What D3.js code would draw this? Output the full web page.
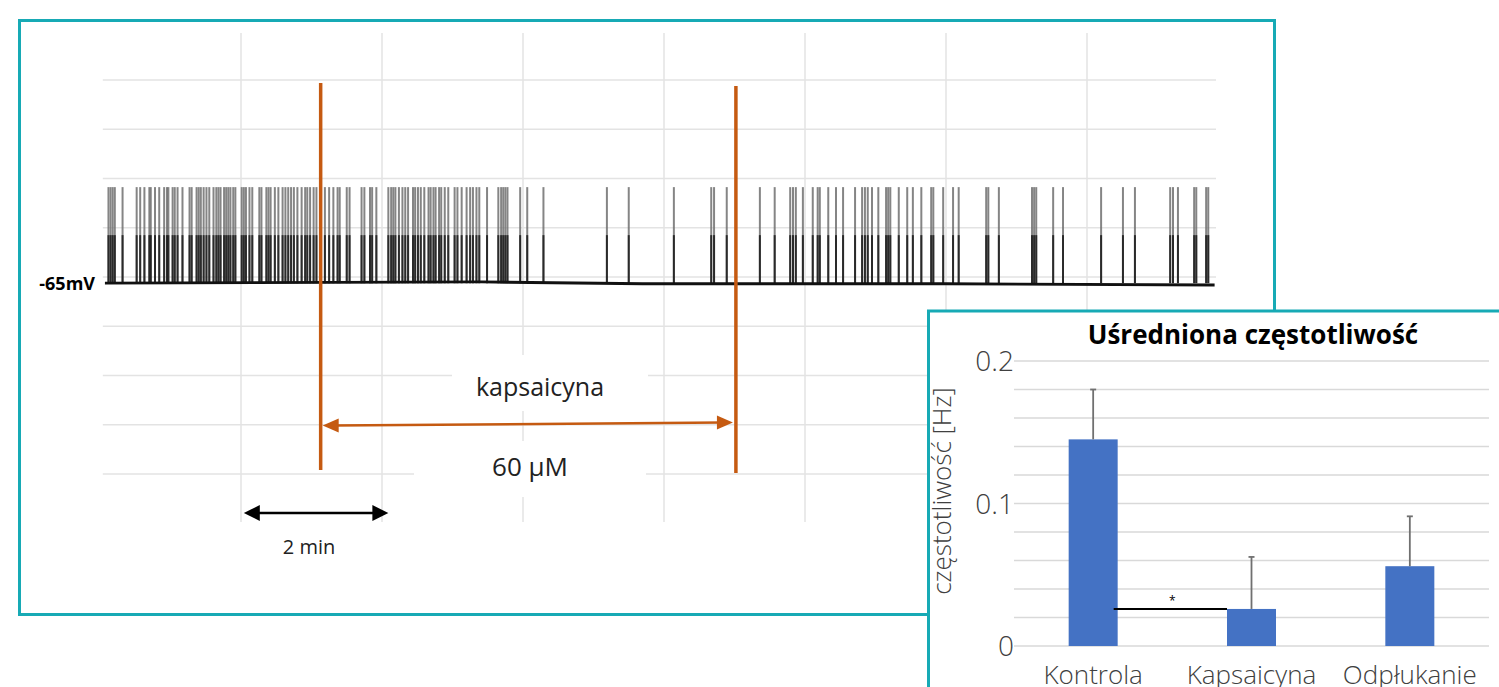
<!DOCTYPE html>
<html>
<head>
<meta charset="utf-8">
<script src="https://cdn.jsdelivr.net/npm/d3@7"></script>
<style>
  body { margin: 0; background: #fff; }
  svg { display: block; }
  text { font-family: "Open Sans", "Noto Sans", sans-serif; }
</style>
</head>
<body>
<svg width="1499" height="687"></svg>
<script>
// ---- trace data (minutes / mV) ----
var spikeTimes = [
  0.12, 0.15, 0.18, 0.21, 0.32, 0.52, 0.57, 0.63, 0.70, 0.72, 0.78, 0.84, 0.91, 0.95, 0.97,
  1.03, 1.06, 1.10, 1.17, 1.27, 1.30, 1.37, 1.40, 1.43, 1.47, 1.51, 1.55, 1.61, 1.65, 1.68,
  1.71, 1.76, 1.79, 1.82, 1.85, 1.89, 1.92, 2.01, 2.04, 2.07, 2.12, 2.16, 2.26, 2.29, 2.36,
  2.39, 2.42, 2.48, 2.53, 2.59, 2.63, 2.67, 2.71, 2.75, 2.80, 2.86, 2.91, 2.94, 2.98, 3.03,
  3.07, 3.19, 3.25, 3.31, 3.37, 3.40, 3.50, 3.54, 3.71, 3.75, 3.83, 3.86, 3.92, 4.09, 4.13,
  4.16, 4.19, 4.24, 4.29, 4.33, 4.37, 4.44, 4.47, 4.51, 4.55, 4.60, 4.66, 4.69, 4.73, 4.76,
  4.81, 4.84, 4.89, 4.94, 5.03, 5.07, 5.13, 5.20, 5.25, 5.29, 5.34, 5.38, 5.49, 5.65, 5.69,
  5.72, 5.75, 5.78, 5.96, 6.06, 6.29, 7.19, 7.50, 8.14, 8.67, 8.71, 8.89, 9.36, 9.57, 9.79,
  9.83, 9.87, 9.97, 10.11, 10.18, 10.21, 10.33, 10.44, 10.54, 10.71, 10.81, 10.85, 10.89, 10.95,
  11.04, 11.15, 11.18, 11.21, 11.33, 11.45, 11.53, 11.65, 11.79, 11.82, 11.96, 12.10, 12.18,
  12.57, 12.60, 12.75, 13.22, 13.25, 13.28, 13.52, 13.66, 14.20, 14.51, 14.68, 15.18, 15.22,
  15.29, 15.52, 15.55, 15.69, 15.72
];
var baselineTimes = [0.07, 5.4, 7.7, 9.5, 12.0, 15.81];
var baselineMv = [-65, -64, -65.5, -65.5, -65.5, -66.5];
var restMv = -65;
var spikePeakMv = 13;
var spikeShoulderMv = -26;
var gridMinutes = [2, 4, 6, 8, 10, 12, 14];
var gridMv = [100, 60, 20, -20, -60, -100, -140, -180, -220];
var drugTimes = [3.13, 9.02];
var scaleBarMinutes = [2.04, 4.09];

// ---- inset bar chart data ----
var categories = ["Kontrola", "Kapsaicyna", "Odpłukanie"];
var meanHz = [0.145, 0.026, 0.056];
var errHz = [0.035, 0.0365, 0.035];
var hzTicks = [0, 0.1, 0.2];
var hzGrid = [0, 0.02, 0.04, 0.06, 0.08, 0.1, 0.12, 0.14, 0.16, 0.18, 0.2];

var svg = d3.select("svg");
var teal = "#17aab5";
var orange = "#c55a11";

//draws a filled arrow head with tip at (x,y) pointing left (dir=-1) or right (dir=1)
function arrowHead(g, x, y, dir, len, half, color) {
  g.append("path")
    .attr("d", `M${x},${y} L${x - dir * len},${y - half} L${x - dir * len},${y + half} Z`)
    .attr("fill", color);
}

function makeTrace() {
  var xT = d3.scaleLinear().domain([0, 16]).range([100, 1228]);
  var yV = d3.scaleLinear().domain([-60, 100]).range([277, 80]);

  svg.append("rect")
    .attr("x", 19.5).attr("y", 20.5).attr("width", 1255).attr("height", 594)
    .attr("fill", "#fff").attr("stroke", teal).attr("stroke-width", 3);

  var grid = svg.append("g").attr("stroke", "#e3e3e3").attr("stroke-width", 1.5);
  grid.selectAll("line.v").data(gridMinutes).enter().append("line")
    .attr("x1", d => xT(d)).attr("x2", d => xT(d))
    .attr("y1", 33).attr("y2", 522);
  grid.selectAll("line.h").data(gridMv).enter().append("line")
    .attr("x1", xT(0.04)).attr("x2", xT(15.83))
    .attr("y1", d => yV(d)).attr("y2", d => yV(d));

  // white boxes behind the labels hide the grid there
  svg.append("rect").attr("x", 452).attr("y", 355).attr("width", 196).attr("height", 56).attr("fill", "#fff");
  svg.append("rect").attr("x", 414).attr("y", 441).attr("width", 232).attr("height", 56).attr("fill", "#fff");

  var spikes = svg.append("g");
  spikes.selectAll("line.full").data(spikeTimes).enter().append("line")
    .attr("x1", d => xT(d)).attr("x2", d => xT(d))
    .attr("y1", yV(restMv)).attr("y2", yV(spikePeakMv))
    .attr("stroke", "#707070").attr("stroke-width", 2).attr("stroke-opacity", 0.85);
  spikes.selectAll("line.low").data(spikeTimes).enter().append("line")
    .attr("x1", d => xT(d)).attr("x2", d => xT(d))
    .attr("y1", yV(restMv)).attr("y2", yV(spikeShoulderMv))
    .attr("stroke", "#1a1a1a").attr("stroke-width", 2).attr("stroke-opacity", 0.85);

  var base = d3.line().x(d => xT(d[0])).y(d => yV(d[1]));
  svg.append("path")
    .datum(baselineTimes.map((t, i) => [t, baselineMv[i]]))
    .attr("d", base).attr("fill", "none").attr("stroke", "#111").attr("stroke-width", 2.8);

  svg.append("text").attr("x", 95).attr("y", 290).attr("text-anchor", "end")
    .attr("font-size", 18).attr("font-weight", "bold").attr("fill", "#000").text("-65mV");

  // drug application lines
  svg.append("line").attr("x1", xT(drugTimes[0])).attr("x2", xT(drugTimes[0]))
    .attr("y1", 83).attr("y2", 470).attr("stroke", orange).attr("stroke-width", 3.5);
  svg.append("line").attr("x1", xT(drugTimes[1])).attr("x2", xT(drugTimes[1]))
    .attr("y1", 86).attr("y2", 473).attr("stroke", orange).attr("stroke-width", 3.5);

  var ann = svg.append("g");
  var ax1 = xT(drugTimes[0]) + 2, ax2 = xT(drugTimes[1]) - 3;
  ann.append("line").attr("x1", ax1 + 10).attr("x2", ax2 - 10).attr("y1", 425.5).attr("y2", 422.5)
    .attr("stroke", orange).attr("stroke-width", 2.5);
  arrowHead(ann, ax1, 425.5, -1, 16, 7, orange);
  arrowHead(ann, ax2, 422.5, 1, 16, 7, orange);

  svg.append("text").attr("x", 540).attr("y", 396).attr("text-anchor", "middle")
    .attr("font-size", 25).attr("fill", "#222").text("kapsaicyna");
  svg.append("text").attr("x", 530).attr("y", 476).attr("text-anchor", "middle")
    .attr("font-size", 26).attr("fill", "#222").text("60 µM");

  // 2 min scale bar
  var s1 = xT(scaleBarMinutes[0]), s2 = xT(scaleBarMinutes[1]);
  ann.append("line").attr("x1", s1 + 10).attr("x2", s2 - 10).attr("y1", 513).attr("y2", 513)
    .attr("stroke", "#000").attr("stroke-width", 2.5);
  arrowHead(ann, s1, 513, -1, 16, 8, "#000");
  arrowHead(ann, s2, 513, 1, 16, 8, "#000");
  svg.append("text").attr("x", 309).attr("y", 554).attr("text-anchor", "middle")
    .attr("font-size", 20).attr("fill", "#222").text("2 min");
}

function makeBarChart() {
  svg.append("rect")
    .attr("x", 928.5).attr("y", 311).attr("width", 600).attr("height", 400)
    .attr("fill", "#fff").attr("stroke", teal).attr("stroke-width", 3);

  var xC = d3.scaleBand().domain(categories).range([1014, 1489]).padding(0);
  var yHz = d3.scaleLinear().domain([0, 0.2]).range([646, 361]);
  var barW = 49;

  svg.append("g").selectAll("line").data(hzGrid).enter().append("line")
    .attr("x1", 1014).attr("x2", 1489)
    .attr("y1", d => yHz(d)).attr("y2", d => yHz(d))
    .attr("stroke", "#d9d9d9").attr("stroke-width", 1.5);

  svg.append("g").selectAll("text").data(hzTicks).enter().append("text")
    .attr("x", 1014).attr("y", d => yHz(d) + 10)
    .attr("text-anchor", "end").attr("font-size", 28).attr("font-weight", 300)
    .attr("fill", "#404040").text(d => d === 0 ? "0" : d.toString());

  svg.append("g").selectAll("rect").data(categories).enter().append("rect")
    .attr("x", d => xC(d) + xC.bandwidth() / 2 - barW / 2)
    .attr("y", (d, i) => yHz(meanHz[i]))
    .attr("width", barW)
    .attr("height", (d, i) => yHz(0) - yHz(meanHz[i]))
    .attr("fill", "#4472c4");

  var err = svg.append("g").attr("stroke", "#707070").attr("stroke-width", 1.8);
  categories.forEach(function (c, i) {
    var cx = xC(c) + xC.bandwidth() / 2;
    err.append("line").attr("x1", cx).attr("x2", cx)
      .attr("y1", yHz(meanHz[i])).attr("y2", yHz(meanHz[i] + errHz[i]));
    err.append("line").attr("x1", cx - 3).attr("x2", cx + 3)
      .attr("y1", yHz(meanHz[i] + errHz[i])).attr("y2", yHz(meanHz[i] + errHz[i]));
  });

  // significance line Kontrola vs Kapsaicyna
  var k0 = xC(categories[0]) + xC.bandwidth() / 2 + barW / 2 - 4;
  var k1 = xC(categories[1]) + xC.bandwidth() / 2 - barW / 2;
  svg.append("line").attr("x1", k0).attr("x2", k1)
    .attr("y1", yHz(meanHz[1])).attr("y2", yHz(meanHz[1]))
    .attr("stroke", "#000").attr("stroke-width", 2);
  svg.append("text").attr("x", (k0 + k1) / 2 + 2).attr("y", yHz(meanHz[1]) - 4)
    .attr("text-anchor", "middle").attr("font-size", 12).attr("fill", "#000").text("*");

  svg.append("g").selectAll("text").data(categories).enter().append("text")
    .attr("x", d => xC(d) + xC.bandwidth() / 2).attr("y", 684)
    .attr("text-anchor", "middle").attr("font-size", 26).attr("font-weight", 300)
    .attr("fill", "#404040").text(d => d);

  svg.append("text")
    .attr("transform", "translate(951,491) rotate(-90)")
    .attr("text-anchor", "middle").attr("font-size", 26).attr("font-weight", 300)
    .attr("fill", "#404040").text("częstotliwość [Hz]");

  svg.append("text").attr("x", 1253).attr("y", 344).attr("text-anchor", "middle")
    .attr("font-size", 26).attr("font-weight", "bold").attr("fill", "#000")
    .text("Uśredniona częstotliwość");
}

makeTrace();
makeBarChart();
</script>
</body>
</html>
